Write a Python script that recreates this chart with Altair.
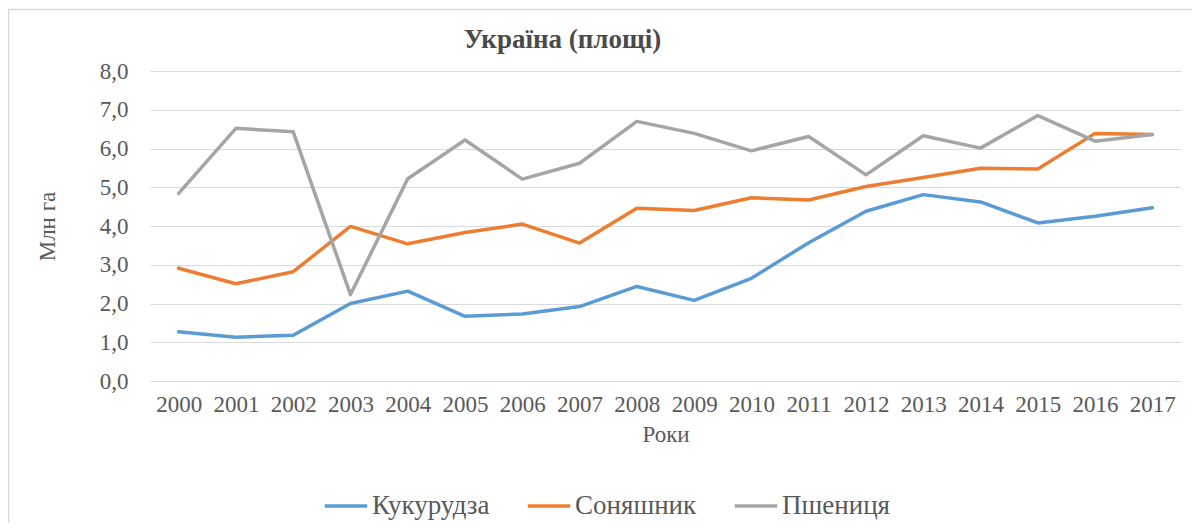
import altair as alt
import pandas as pd

years = [str(y) for y in range(2000, 2018)]
corn = [1.27, 1.13, 1.18, 2.00, 2.32, 1.67, 1.73, 1.92, 2.44, 2.08, 2.65, 3.57, 4.38, 4.81, 4.62, 4.08, 4.25, 4.47]
sunflower = [2.91, 2.51, 2.82, 3.99, 3.54, 3.83, 4.05, 3.56, 4.46, 4.40, 4.73, 4.67, 5.02, 5.25, 5.49, 5.47, 6.39, 6.36]
wheat = [4.84, 6.52, 6.43, 2.23, 5.22, 6.22, 5.21, 5.62, 6.70, 6.39, 5.94, 6.31, 5.32, 6.33, 6.01, 6.85, 6.19, 6.36]

series_names = ["Кукурудза", "Соняшник", "Пшениця"]
series_colors = ["#5B9BD5", "#ED7D31", "#A5A5A5"]

rows = []
for name, vals in zip(series_names, [corn, sunflower, wheat]):
    for y, v in zip(years, vals):
        rows.append({"Рік": y, "Культура": name, "Площа": v})
df = pd.DataFrame(rows)

FONT = "Liberation Serif"
TXT = "#595959"

W, H = 1031, 310

lines = alt.Chart(df).mark_line(strokeWidth=3.5, strokeCap="round", strokeJoin="round").encode(
    x=alt.X("Рік:O", sort=years,
            scale=alt.Scale(type="point", padding=0.5),
            axis=alt.Axis(title="Роки", labelAngle=0, ticks=False, domain=False,
                          grid=False, labelPadding=12, titlePadding=7,
                          labelFontSize=23, titleFontSize=23,
                          labelFont=FONT, titleFont=FONT, labelColor=TXT, titleColor=TXT,
                          titleFontWeight="normal")),
    y=alt.Y("Площа:Q", scale=alt.Scale(domain=[0, 8], nice=False),
            axis=alt.Axis(title="Млн га", values=[0, 1, 2, 3, 4, 5, 6, 7, 8],
                          labelExpr="replace(format(datum.value, '.1f'), '.', ',')",
                          ticks=False, domain=False, grid=True, labelPadding=22,
                          titlePadding=40, labelFontSize=23, titleFontSize=23,
                          labelFont=FONT, titleFont=FONT, labelColor=TXT, titleColor=TXT,
                          titleFontWeight="normal", gridColor="#D9D9D9", gridWidth=1.2)),
    color=alt.Color("Культура:N",
                    scale=alt.Scale(domain=series_names, range=series_colors),
                    legend=alt.Legend(title=None, orient="none", direction="horizontal",
                                      legendX=173, legendY=412, symbolType="stroke",
                                      symbolSize=1800, symbolStrokeWidth=3.5,
                                      labelFontSize=27, labelFont=FONT, labelColor=TXT,
                                      labelOffset=3, columnPadding=30, padding=0)),
    order=alt.Order("Культура:N"),
)

frame = alt.Chart(alt.Data(values=[{"a": 1}])).mark_rect(
    fillOpacity=0, stroke="#D9D9D9", strokeWidth=1.5
).encode(
    x=alt.value(-141.5), x2=alt.value(1100), y=alt.value(-61.5), y2=alt.value(520)
)

chart = alt.layer(frame, lines).properties(
    width=W, height=H,
    title=alt.TitleParams("Україна (площі)", font=FONT, fontSize=27, fontWeight="bold",
                          color="#4a4a4a", anchor="middle", dx=-103, offset=-45),
    autosize=alt.AutoSizeParams(type="none"),
    padding={"left": 142, "top": 63, "right": 11, "bottom": 142},
    background="white",
).configure_view(stroke=None)

chart.save("out.html", embed_options={"renderer": "svg", "actions": False})
